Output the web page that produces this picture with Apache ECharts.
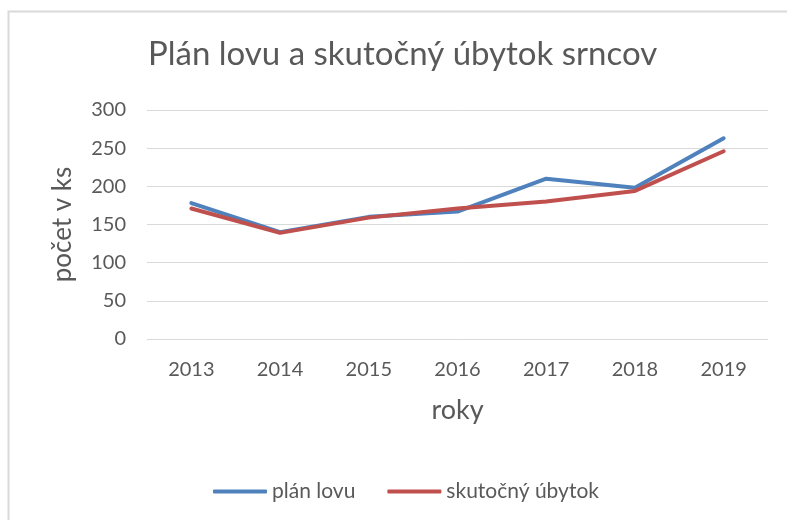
<!DOCTYPE html>
<html>
<head>
<meta charset="utf-8">
<script src="https://cdn.jsdelivr.net/npm/echarts@6/dist/echarts.min.js"></script>
<style>
  html, body { margin: 0; padding: 0; background: #fff; }
  #chart { width: 787px; height: 520px; }
</style>
</head>
<body>
<div id="chart"></div>
<script>
// roky a hodnoty
var roky = ['2013', '2014', '2015', '2016', '2017', '2018', '2019'];
var planLovu = [178, 140, 160, 167, 210, 198, 263];
var skutocnyUbytok = [171, 139, 159, 171, 180, 194, 246];

var chart = echarts.init(document.getElementById('chart'));
var textGrey = '#595959';
var font = 'Lato';

var option = {
	backgroundColor: '#fff',
	animation: false,
	title: {
		text: 'Plán lovu a skutočný úbytok srncov',
		left: 143,
		top: 33,
		textStyle: { fontFamily: font, fontSize: 33, fontWeight: 'normal', color: textGrey }
	},
	legend: {
		left: 208,
		top: 476,
		itemWidth: 54,
		itemHeight: 4,
		itemGap: 32,
		icon: 'roundRect',
		textStyle: { fontFamily: font, fontSize: 21, color: textGrey },
		data: ['plán lovu', 'skutočný úbytok']
	},
	grid: { left: 147, right: 19, top: 110, bottom: 181 },
	xAxis: {
		type: 'category',
		data: roky,
		name: 'roky',
		nameLocation: 'middle',
		nameGap: 58,
		nameTextStyle: { fontFamily: font, fontSize: 27, color: textGrey },
		axisLine: { show: false },
		axisTick: { show: false },
		axisLabel: { fontFamily: font, fontSize: 20, color: textGrey, margin: 21 }
	},
	yAxis: {
		type: 'value',
		min: 0,
		max: 300,
		interval: 50,
		name: 'počet v ks',
		nameLocation: 'middle',
		nameGap: 71,
		nameTextStyle: { fontFamily: font, fontSize: 26, color: textGrey },
		axisLine: { show: false },
		axisTick: { show: false },
		axisLabel: { fontFamily: font, fontSize: 20, color: textGrey, margin: 21 },
		splitLine: { lineStyle: { color: '#d9d9d9', width: 1 } }
	},
	series: [
		{
			name: 'plán lovu',
			type: 'line',
			data: planLovu,
			symbol: 'none',
			color: '#4f81bd',
			lineStyle: { width: 4, color: '#4f81bd', cap: 'round', join: 'round' }
		},
		{
			name: 'skutočný úbytok',
			type: 'line',
			data: skutocnyUbytok,
			symbol: 'none',
			color: '#c0504d',
			lineStyle: { width: 4, color: '#c0504d', cap: 'round', join: 'round' }
		}
	],
	graphic: [{
		// rámček grafu
		type: 'rect',
		shape: { x: 8.5, y: 11.5, width: 800, height: 520 },
		style: { fill: null, stroke: '#d9d9d9', lineWidth: 2 },
		silent: true
	}]
};
chart.setOption(option);
</script>
</body>
</html>
